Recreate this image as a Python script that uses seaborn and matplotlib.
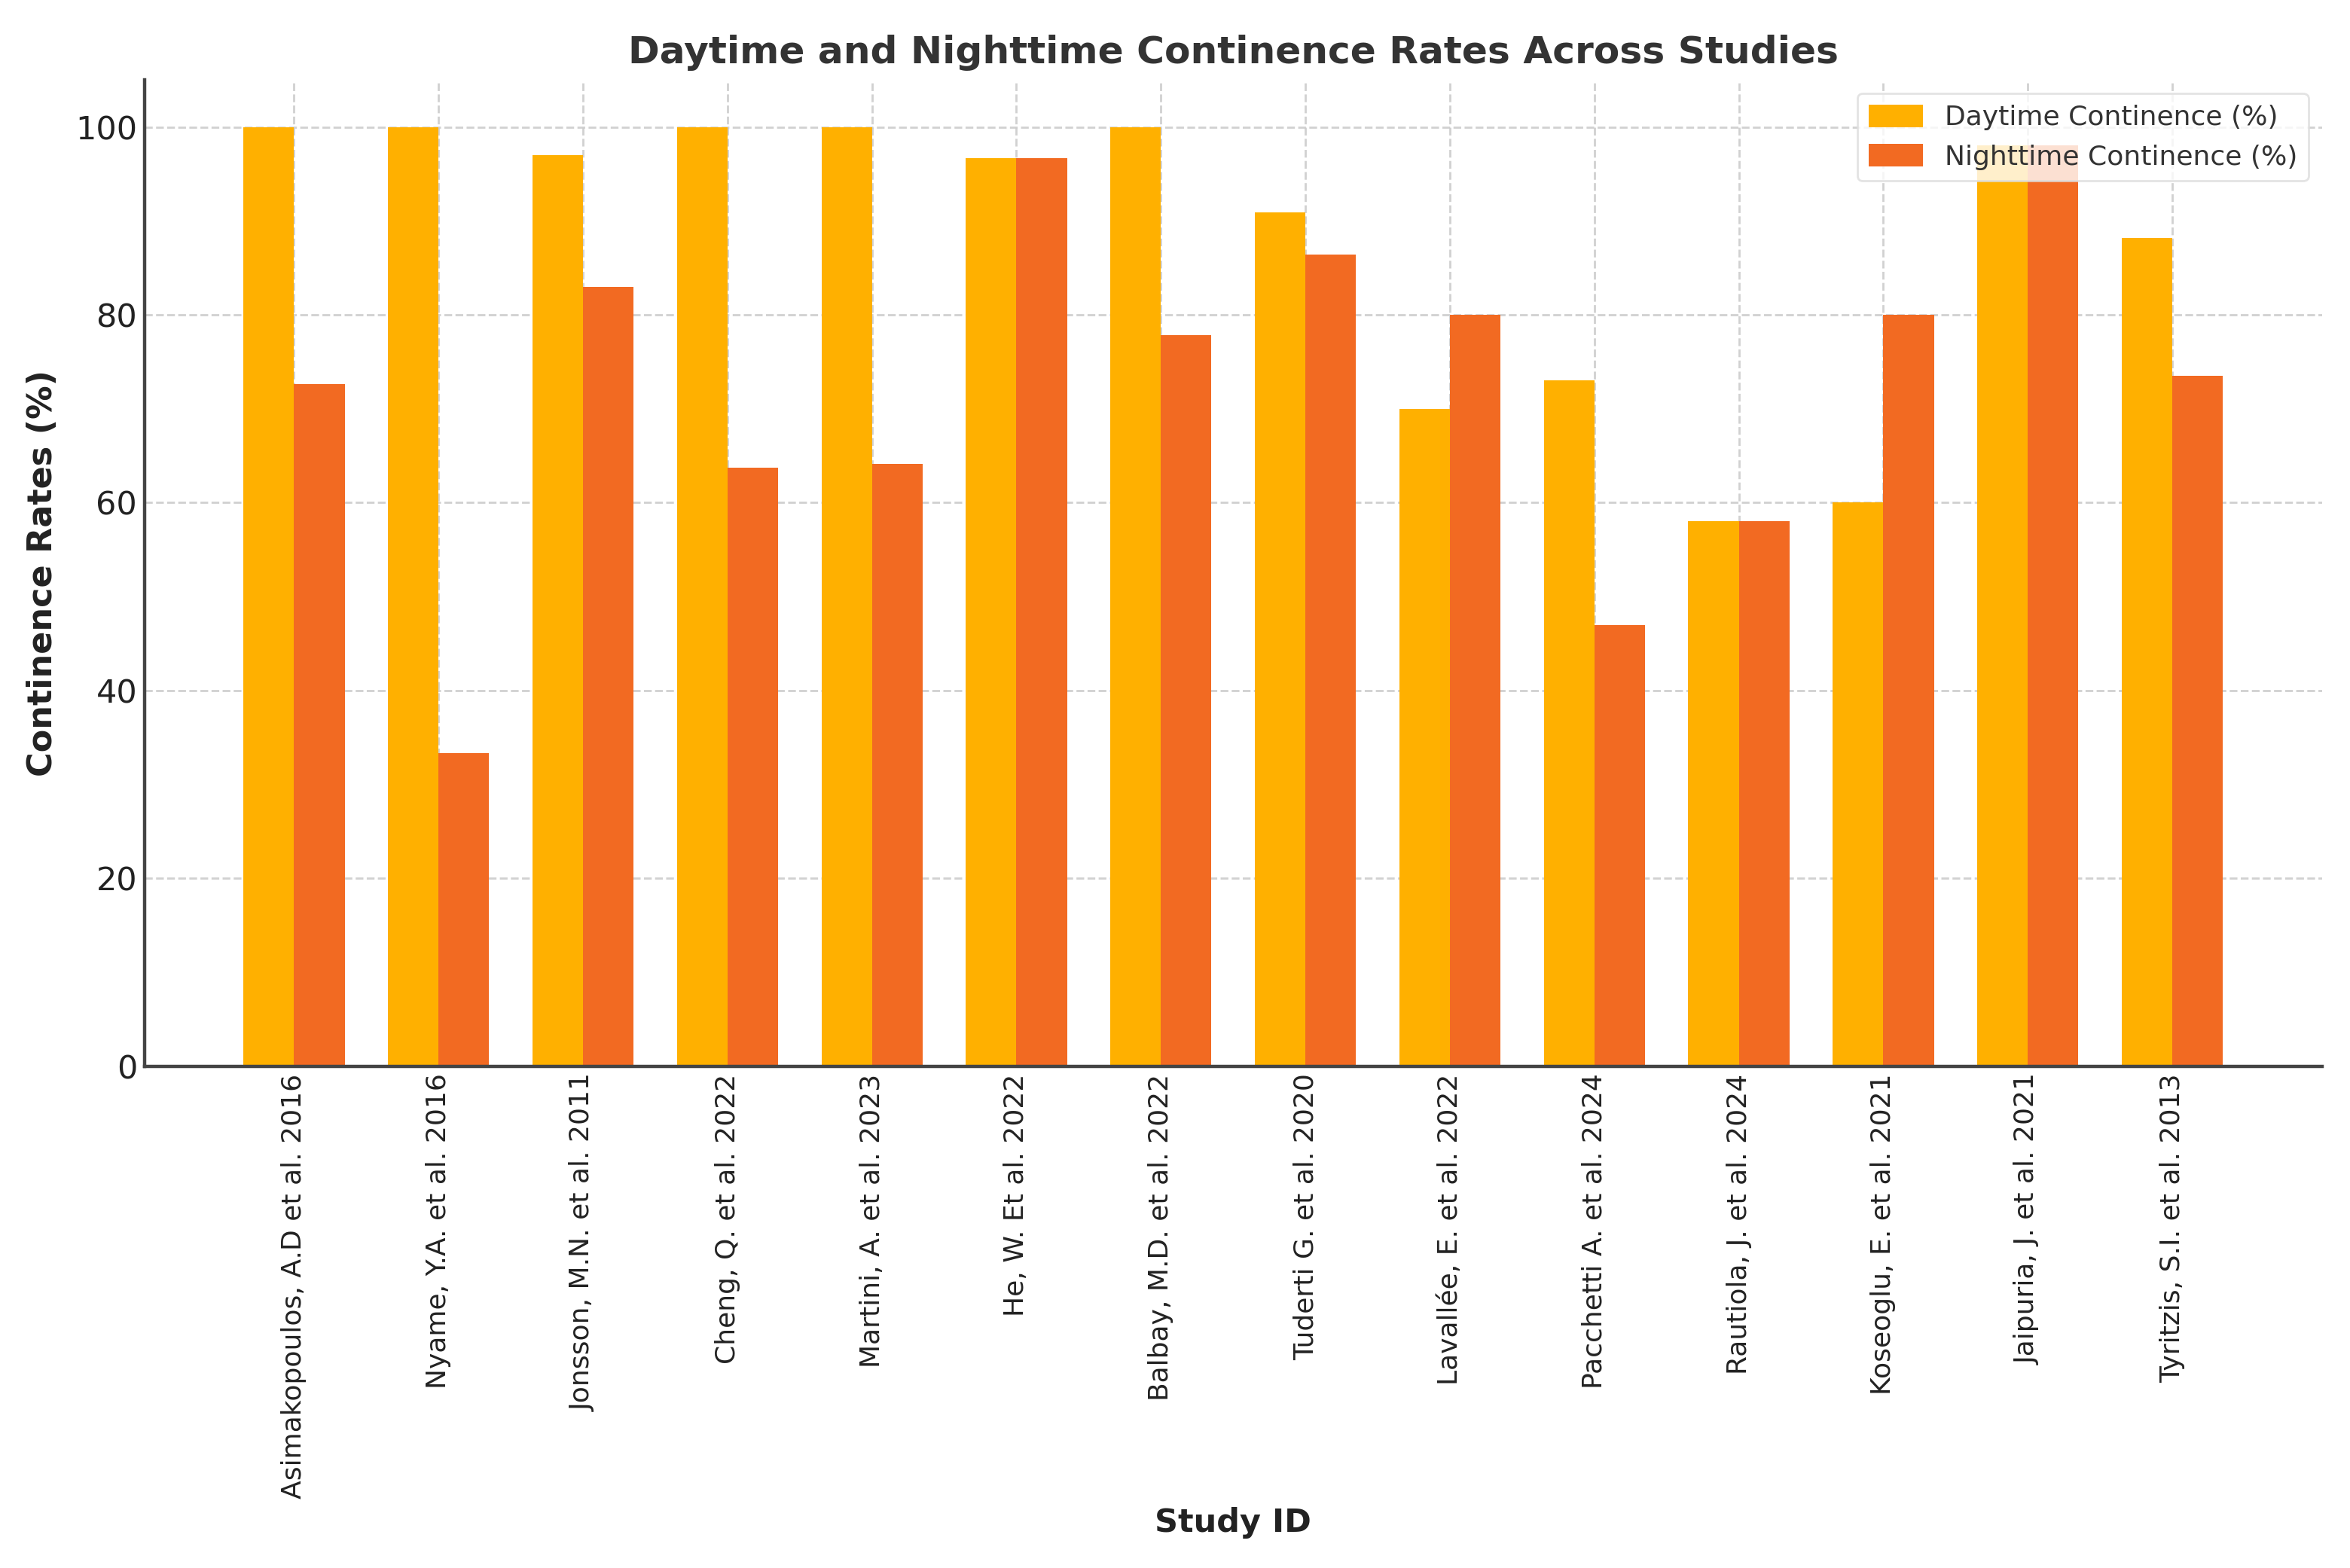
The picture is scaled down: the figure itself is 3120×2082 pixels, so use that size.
import numpy as np
import pandas as pd
import matplotlib
matplotlib.use("Agg")
import matplotlib.pyplot as plt
import seaborn as sns

# -----------------------------
# Data
# -----------------------------
studies = [
    "Asimakopoulos, A.D et al. 2016", "Nyame, Y.A. et al. 2016",
    "Jonsson, M.N. et al. 2011", "Cheng, Q. et al. 2022",
    "Martini, A. et al. 2023", "He, W. Et al. 2022",
    "Balbay, M.D. et al. 2022", "Tuderti G. et al. 2020",
    "Lavallée, E. et al. 2022", "Pacchetti A. et al. 2024",
    "Rautiola, J. et al. 2024", "Koseoglu, E. et al. 2021",
    "Jaipuria, J. et al. 2021", "Tyritzis, S.I. et al. 2013",
]
daytime = [100, 100, 97, 100, 100, 96.7, 100, 90.9, 70, 73, 58, 60, 98, 88.2]
nighttime = [72.6, 33.3, 83, 63.7, 64.1, 96.7, 77.8, 86.4, 80, 47, 58, 80, 98, 73.5]

series_names = ["Daytime Continence (%)", "Nighttime Continence (%)"]
colors = ["#FFB000", "#F26A22"]

df = pd.DataFrame({
    "Study ID": studies * 2,
    "Rate": daytime + nighttime,
    "Series": [series_names[0]] * len(studies) + [series_names[1]] * len(studies),
})

# -----------------------------
# Styling
# -----------------------------
sns.set_style("white")
plt.rcParams["font.family"] = ["DejaVu Sans"]
TEXT_COLOR = "#333333"

fig, ax = plt.subplots(figsize=(15.6, 10.41), dpi=200)
fig.subplots_adjust(left=0.0615, right=0.988, bottom=0.320, top=0.949)

sns.barplot(data=df, x="Study ID", y="Rate", hue="Series", palette=colors,
            width=0.7, saturation=1, linewidth=0, ax=ax, zorder=2)

# matplotlib-style x margins around the bars
ax.autoscale(enable=True, axis="x", tight=False)
ax.margins(x=0.05)
ax.set_ylim(0, 105)

ax.set_title("Daytime and Nighttime Continence Rates Across Studies",
             fontsize=18.1, fontweight="bold", color=TEXT_COLOR, pad=8)
ax.set_xlabel("Study ID", fontsize=15.5, fontweight="bold", color="#222222")
ax.set_ylabel("Continence Rates (%)", fontsize=16, fontweight="bold",
              color="#222222", labelpad=8)

ax.tick_params(axis="x", labelsize=13, rotation=90, direction="in", length=7,
               width=1, color="#333333", labelcolor="#222222")
ax.tick_params(axis="y", labelsize=15.5, direction="in", length=7,
               width=1, color="#333333", labelcolor="#222222")

ax.grid(True, linestyle="--", linewidth=1, color="#cccccc", alpha=0.9, zorder=0)
ax.set_axisbelow(True)

for side in ["top", "right"]:
    ax.spines[side].set_visible(False)
for side in ["left", "bottom"]:
    ax.spines[side].set_color("#444444")
    ax.spines[side].set_linewidth(1.6)

leg = ax.legend(loc="upper right", fontsize=13, frameon=True, framealpha=0.8,
                edgecolor="#dddddd", fancybox=True, title=None, handleheight=0.9)
for t in leg.get_texts():
    t.set_color(TEXT_COLOR)

plt.savefig("out.png", dpi=200)
